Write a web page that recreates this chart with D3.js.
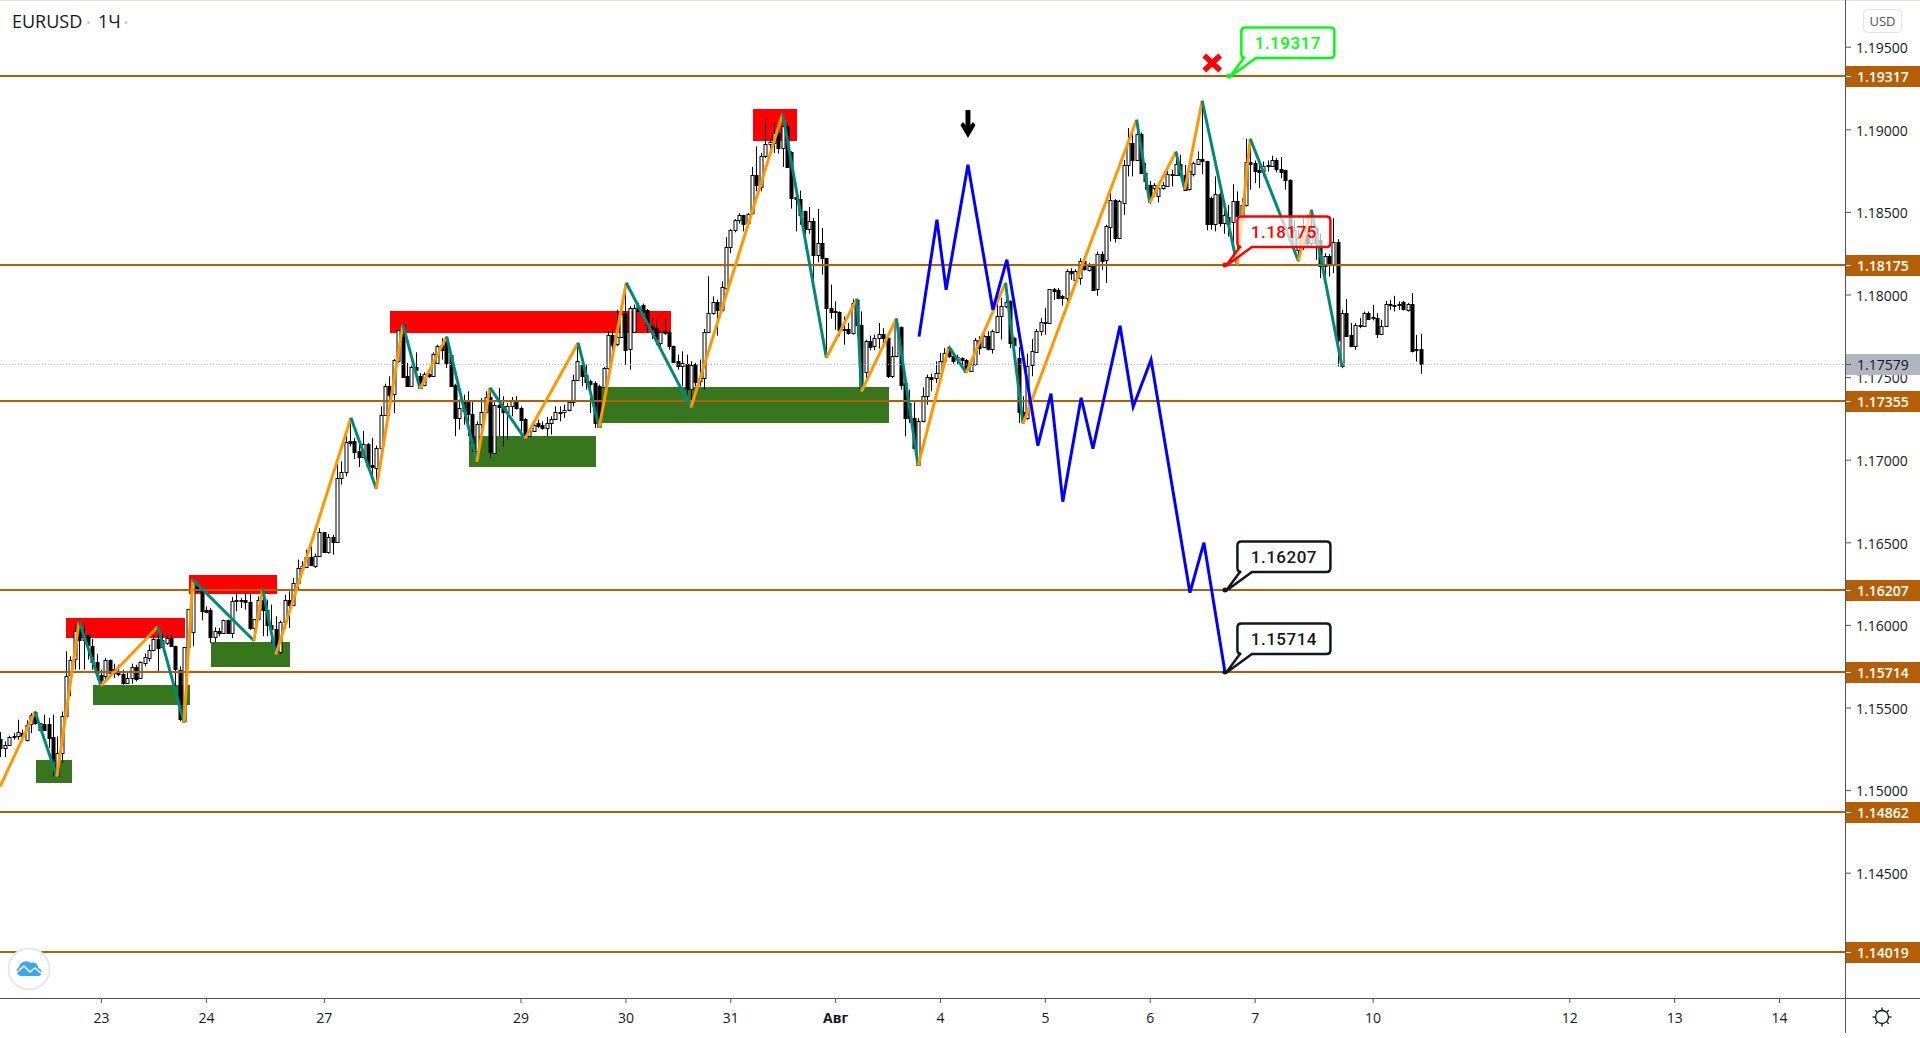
<!DOCTYPE html>
<html>
<head>
<meta charset="utf-8">
<title>EURUSD</title>
<script src="https://cdn.jsdelivr.net/npm/d3@7"></script>
<style>
  html, body { margin: 0; padding: 0; background: #fff; overflow: hidden; }
  svg { display: block; }
  text { font-family: "Open Sans", sans-serif; }
</style>
</head>
<body>
<svg id="chart" width="1920" height="1038"></svg>
<script>
// bar number of the first candle, one candle per hour, trading hours only
const firstBar = -23;

const opens = [
  1.15311,1.15255,1.15271,1.15327,1.15327,1.15346,1.15305,1.15402,1.15473,1.15366,
  1.154,1.15402,1.15321,1.15083,1.15225,1.15451,1.15699,1.1579,1.16001,1.15911,
  1.15941,1.15874,1.15775,1.15699,1.15695,1.1579,1.15733,1.15713,1.15703,1.15648,
  1.15679,1.15745,1.15679,1.15769,1.15804,1.1585,1.15917,1.15866,1.1589,1.15921,
  1.1587,1.15725,1.15416,1.15866,1.15957,1.1623,1.16203,1.16092,1.16092,1.15931,
  1.15965,1.15955,1.16032,1.15951,1.16149,1.16149,1.16149,1.16139,1.15981,1.16036,
  1.16153,1.16092,1.16001,1.15975,1.1584,1.1602,1.16153,1.16123,1.16254,1.16345,
  1.16348,1.16411,1.1636,1.16415,1.16562,1.16439,1.16532,1.165,1.1689,1.16925,
  1.17115,1.17115,1.1705,1.17016,1.17095,1.16965,1.1695,1.1707,1.17273,1.17448,
  1.17394,1.17596,1.17818,1.17509,1.17448,1.17561,1.17509,1.17454,1.17521,1.17511,
  1.17586,1.17696,1.17737,1.17636,1.17454,1.17253,1.17353,1.17353,1.17279,1.17057,
  1.17218,1.17289,1.1738,1.17045,1.17333,1.17327,1.17293,1.17323,1.1736,1.17313,
  1.17246,1.17142,1.17172,1.17222,1.17208,1.17192,1.17222,1.17246,1.17287,1.17287,
  1.17301,1.17351,1.17485,1.17575,1.17515,1.17475,1.17464,1.17448,1.1744,1.17555,
  1.17757,1.17701,1.17743,1.17888,1.1767,1.17771,1.17933,1.17939,1.17908,1.17812,
  1.17797,1.17707,1.17777,1.17771,1.1769,1.176,1.1757,1.17581,1.17428,1.17581,
  1.17475,1.17495,1.17773,1.17888,1.17955,1.17904,1.18039,1.18287,1.18388,1.18449,
  1.18481,1.18433,1.18489,1.18721,1.18655,1.18836,1.18911,1.18917,1.18978,1.18885,
  1.19018,1.18863,1.18588,1.1858,1.18507,1.18398,1.18447,1.18241,1.18312,1.18221,
  1.17918,1.179,1.17894,1.17793,1.17793,1.17767,1.17969,1.17815,1.17535,1.1772,
  1.17686,1.17737,1.17761,1.17737,1.17505,1.17626,1.17801,1.17464,1.17343,1.17252,
  1.1697,1.17232,1.17383,1.175,1.17494,1.17525,1.17595,1.17676,1.1763,1.17605,
  1.17613,1.17601,1.17539,1.17581,1.17727,1.17682,1.17747,1.17666,1.17773,1.17868,
  1.17928,1.17959,1.17737,1.17616,1.17287,1.17252,1.17569,1.17656,1.17777,1.17836,
  1.17827,1.18033,1.18028,1.17992,1.17982,1.18145,1.18093,1.18099,1.182,1.18149,
  1.18174,1.18033,1.18246,1.18206,1.18412,1.18573,1.1834,1.18557,1.18785,1.1892,
  1.18815,1.18973,1.18735,1.18664,1.18644,1.18593,1.1864,1.1866,1.18723,1.18723,
  1.18789,1.18725,1.18634,1.1873,1.18791,1.18819,1.18809,1.18583,1.18428,1.18608,
  1.18432,1.18472,1.18436,1.18563,1.18452,1.18543,1.18805,1.18795,1.18755,1.18751,
  1.18775,1.18779,1.18815,1.18761,1.18751,1.18694,1.1829,1.1827,1.1829,1.18412,
  1.18311,1.18402,1.18331,1.18174,1.18234,1.1818,1.18317,1.17564,1.17887,1.17756,
  1.1769,1.1781,1.1781,1.17891,1.17863,1.17857,1.17762,1.17812,1.17938,1.17932,
  1.17944,1.17952,1.17907,1.17944,1.17669,1.17669
];
const highs = [
  1.15352,1.15295,1.15329,1.15346,1.15426,1.15366,1.15422,1.15467,1.15477,1.15406,
  1.15457,1.15436,1.15457,1.15325,1.15475,1.1584,1.1581,1.16001,1.16022,1.16001,
  1.15941,1.15915,1.15824,1.15729,1.158,1.1579,1.15765,1.15759,1.15729,1.15709,
  1.15765,1.15759,1.15779,1.15826,1.1588,1.15935,1.15991,1.15951,1.15951,1.15951,
  1.15874,1.15749,1.15866,1.16096,1.16274,1.16254,1.16203,1.16112,1.16102,1.15985,
  1.15981,1.16032,1.16032,1.1617,1.16217,1.16163,1.16193,1.16193,1.16036,1.16173,
  1.16213,1.16153,1.16123,1.16052,1.16026,1.16183,1.16203,1.16284,1.16395,1.16385,
  1.16455,1.16479,1.16431,1.16586,1.16562,1.1655,1.16546,1.1699,1.1699,1.17161,
  1.17252,1.17131,1.17101,1.17175,1.17101,1.17131,1.17085,1.17323,1.1746,1.17505,
  1.1761,1.17791,1.17828,1.17586,1.1757,1.1765,1.17525,1.17529,1.17525,1.1765,
  1.17696,1.17737,1.17747,1.17646,1.1746,1.17364,1.17394,1.17414,1.17353,1.17232,
  1.17374,1.17414,1.17414,1.17353,1.17434,1.17384,1.17343,1.1738,1.17384,1.17323,
  1.17253,1.17192,1.17242,1.17242,1.17232,1.17259,1.17263,1.17323,1.17323,1.17333,
  1.17353,1.17515,1.17707,1.1763,1.17575,1.17485,1.17475,1.17454,1.17561,1.17777,
  1.17787,1.17908,1.17918,1.18029,1.17929,1.17939,1.17949,1.17945,1.17912,1.17858,
  1.17848,1.17783,1.17858,1.17777,1.1769,1.17636,1.17656,1.17636,1.17596,1.17586,
  1.17606,1.17791,1.1811,1.17989,1.17969,1.1808,1.18348,1.18396,1.18457,1.18493,
  1.18483,1.18493,1.18772,1.18897,1.18857,1.19058,1.18941,1.19038,1.19018,1.19095,
  1.19038,1.18867,1.18625,1.18629,1.18507,1.1853,1.18463,1.18518,1.18403,1.18221,
  1.1806,1.17959,1.17898,1.17868,1.17827,1.17973,1.17969,1.17898,1.17727,1.17751,
  1.17757,1.17827,1.17797,1.17743,1.17686,1.17856,1.17807,1.17484,1.17424,1.17353,
  1.17252,1.17438,1.17515,1.17521,1.17595,1.17646,1.17676,1.1769,1.17636,1.17636,
  1.1762,1.1761,1.17595,1.17737,1.17747,1.17757,1.17777,1.17787,1.18033,1.17979,
  1.1807,1.17965,1.17743,1.17682,1.17384,1.17642,1.17731,1.17791,1.17858,1.17918,
  1.18033,1.18039,1.18039,1.17998,1.18153,1.18159,1.18153,1.1822,1.1821,1.1819,
  1.18186,1.1826,1.1826,1.18422,1.18624,1.18577,1.18573,1.18815,1.19007,1.18987,
  1.19058,1.18981,1.18795,1.18688,1.18674,1.18654,1.1868,1.18755,1.18755,1.18866,
  1.18846,1.18785,1.18795,1.18805,1.18866,1.19173,1.18809,1.18593,1.18715,1.18654,
  1.18563,1.18543,1.18668,1.18624,1.18583,1.18941,1.18941,1.18811,1.18795,1.18805,
  1.18811,1.1884,1.18826,1.18832,1.18755,1.18698,1.18452,1.18392,1.18472,1.18482,
  1.18513,1.18412,1.18371,1.1825,1.18246,1.18462,1.18335,1.17907,1.17972,1.17827,
  1.17827,1.17857,1.17897,1.17897,1.17938,1.17887,1.17847,1.17962,1.17968,1.17992,
  1.17958,1.17962,1.17948,1.18008,1.17756,1.17762
];
const lows = [
  1.152,1.152,1.15269,1.15305,1.15305,1.15295,1.15295,1.15346,1.15396,1.15356,
  1.15366,1.15255,1.15079,1.15079,1.15164,1.15447,1.15568,1.15729,1.15729,1.15729,
  1.1579,1.15729,1.15669,1.15638,1.15648,1.15699,1.15679,1.15689,1.15638,1.15644,
  1.15644,1.15658,1.15675,1.15749,1.15779,1.1584,1.15709,1.1586,1.1588,1.15866,
  1.15568,1.15416,1.15406,1.15749,1.1587,1.16193,1.16028,1.16076,1.1589,1.15895,
  1.15931,1.15951,1.15947,1.15921,1.16082,1.16102,1.16092,1.15971,1.15901,1.16032,
  1.15931,1.15931,1.1589,1.1582,1.15826,1.15977,1.15981,1.16123,1.16213,1.16334,
  1.16344,1.1636,1.16344,1.16411,1.16435,1.16431,1.16425,1.165,1.1685,1.16899,
  1.1708,1.17004,1.16955,1.1701,1.1695,1.1687,1.16822,1.1706,1.17267,1.17263,
  1.17283,1.17586,1.17495,1.1744,1.17444,1.17505,1.17428,1.17444,1.17495,1.17505,
  1.17581,1.17606,1.17555,1.17444,1.17142,1.17182,1.17212,1.17142,1.17041,1.17,
  1.17142,1.17283,1.1701,1.17041,1.17142,1.17081,1.17121,1.17263,1.17303,1.17172,
  1.17121,1.17137,1.17168,1.17192,1.17182,1.17142,1.17152,1.17242,1.17232,1.17253,
  1.17293,1.17323,1.17481,1.17444,1.17424,1.17283,1.17192,1.17192,1.17434,1.17545,
  1.17606,1.17686,1.17737,1.17575,1.17545,1.17767,1.17898,1.17888,1.17767,1.17731,
  1.17696,1.17676,1.17757,1.17666,1.17586,1.17545,1.17444,1.17394,1.17313,1.17444,
  1.17444,1.17424,1.17771,1.17878,1.17751,1.17898,1.18029,1.18251,1.18376,1.18429,
  1.18382,1.18429,1.18483,1.18625,1.18625,1.18826,1.18846,1.18857,1.18853,1.18772,
  1.18766,1.1852,1.18382,1.18423,1.18275,1.18368,1.18029,1.18195,1.1812,1.17616,
  1.17854,1.17787,1.17747,1.17696,1.17757,1.17757,1.17747,1.17414,1.17474,1.17662,
  1.17662,1.17672,1.17686,1.17494,1.17494,1.1762,1.17424,1.17141,1.17222,1.17065,
  1.16964,1.17226,1.17333,1.17414,1.17464,1.17521,1.17585,1.17616,1.17581,1.17575,
  1.17561,1.17529,1.17535,1.17569,1.17636,1.17676,1.17662,1.17642,1.17767,1.17727,
  1.17918,1.17676,1.17666,1.17222,1.17218,1.17242,1.17505,1.17652,1.17751,1.17757,
  1.17823,1.17968,1.17972,1.17932,1.17952,1.18089,1.18089,1.18059,1.18145,1.18139,
  1.18024,1.17992,1.18149,1.18069,1.18321,1.18315,1.18335,1.18482,1.18715,1.18715,
  1.18811,1.18731,1.18634,1.18549,1.18593,1.18557,1.18634,1.18658,1.18654,1.18719,
  1.18715,1.1863,1.1863,1.18715,1.18785,1.1873,1.18388,1.18392,1.18382,1.18412,
  1.18367,1.18351,1.18291,1.1818,1.18432,1.18533,1.18634,1.18674,1.18644,1.18715,
  1.18745,1.18775,1.18739,1.18704,1.18634,1.18371,1.1827,1.182,1.1827,1.1829,
  1.1829,1.1821,1.18099,1.18099,1.18109,1.18129,1.17564,1.17554,1.17746,1.17681,
  1.17665,1.17796,1.17806,1.17847,1.17843,1.17736,1.17756,1.1781,1.17907,1.17897,
  1.17907,1.17903,1.17897,1.17649,1.17595,1.1752
];
const closes = [
  1.15255,1.15275,1.15321,1.15319,1.15352,1.15325,1.15396,1.15457,1.15406,1.15406,
  1.15366,1.15319,1.15184,1.15225,1.15451,1.15693,1.1579,1.15961,1.15911,1.15941,
  1.1588,1.1578,1.15709,1.15669,1.1579,1.15709,1.15709,1.15699,1.15648,1.15679,
  1.15745,1.15675,1.15775,1.15806,1.1585,1.15917,1.15864,1.15911,1.15921,1.1587,
  1.15729,1.15426,1.15866,1.16096,1.16274,1.16203,1.16082,1.16082,1.15931,1.15965,
  1.15951,1.16032,1.15951,1.16143,1.16143,1.16143,1.16139,1.15981,1.16036,1.16149,
  1.16092,1.16001,1.15975,1.1584,1.1602,1.16153,1.16123,1.16254,1.16345,1.16359,
  1.16411,1.1636,1.16419,1.16562,1.16439,1.16532,1.165,1.1689,1.16925,1.17105,
  1.17105,1.1705,1.17016,1.17095,1.1696,1.16951,1.1707,1.17272,1.17448,1.17394,
  1.17602,1.17783,1.17505,1.17448,1.17561,1.17545,1.17434,1.17521,1.17509,1.17642,
  1.1769,1.17666,1.17586,1.17448,1.17253,1.17313,1.17293,1.17273,1.17101,1.17218,
  1.17289,1.1738,1.17045,1.17333,1.17323,1.17293,1.17327,1.1736,1.17313,1.17242,
  1.17146,1.17172,1.17208,1.17202,1.17192,1.17222,1.17246,1.17289,1.17291,1.17301,
  1.17351,1.17485,1.176,1.17509,1.17475,1.17454,1.17222,1.17202,1.17555,1.17757,
  1.17696,1.17743,1.17884,1.17666,1.17918,1.17918,1.17904,1.17898,1.17818,1.17791,
  1.17731,1.17775,1.17767,1.17686,1.17596,1.1757,1.17586,1.17428,1.17575,1.17475,
  1.17495,1.17773,1.17888,1.17955,1.17904,1.18046,1.18287,1.18392,1.18449,1.18481,
  1.18427,1.18489,1.18721,1.18661,1.1884,1.18911,1.18923,1.18978,1.18885,1.19018,
  1.1877,1.18584,1.18578,1.18483,1.18396,1.18447,1.18241,1.18312,1.18221,1.17916,
  1.17894,1.17892,1.17787,1.17787,1.17771,1.17948,1.17815,1.17434,1.1772,1.17686,
  1.17737,1.17761,1.17737,1.17505,1.17626,1.17827,1.1745,1.17252,1.17252,1.17071,
  1.17236,1.17383,1.175,1.1749,1.17525,1.17595,1.17646,1.17626,1.17601,1.1762,
  1.17601,1.17541,1.17581,1.17727,1.17676,1.17747,1.17666,1.17777,1.17872,1.17928,
  1.17955,1.17706,1.17696,1.17287,1.17242,1.17569,1.17656,1.17781,1.17834,1.17828,
  1.18033,1.18018,1.17978,1.17982,1.18145,1.18133,1.18145,1.182,1.18149,1.18174,
  1.18028,1.18246,1.18206,1.18412,1.18573,1.1834,1.18563,1.18785,1.1892,1.18815,
  1.18973,1.18735,1.18684,1.18598,1.18664,1.18644,1.1866,1.1873,1.1873,1.18789,
  1.18725,1.18634,1.18745,1.18795,1.18819,1.18805,1.18428,1.18428,1.18608,1.18432,
  1.18482,1.18432,1.18563,1.18472,1.18543,1.18805,1.18791,1.18745,1.18745,1.18779,
  1.18781,1.18815,1.18761,1.18745,1.1869,1.18412,1.18392,1.18341,1.18392,1.18311,
  1.18392,1.18311,1.18174,1.18234,1.1818,1.18317,1.17726,1.17887,1.1775,1.1769,
  1.17817,1.17817,1.17891,1.17857,1.17855,1.17762,1.17812,1.17944,1.17944,1.17938,
  1.17936,1.17907,1.17944,1.17661,1.17661,1.1758
];

// orange/teal zigzag pivots
const zigBars = [-23.1,-15.1,-10.1,-5,0,13,19,21,35,37,40,57.2,63,69.1,73,79.1,86,89,97,109.2,114,120.2,135,156,166,173,174,182,187,194,198,207,211,237,240,246,248,252,260,263,274,277,284];
const zigPrices = [1.15021,1.15475,1.15081,1.16019,1.15632,1.15989,1.15408,1.16274,1.15904,1.16219,1.1582,1.17254,1.16824,1.17817,1.1743,1.17745,1.16988,1.17436,1.17127,1.17708,1.17194,1.18071,1.17315,1.19094,1.17617,1.17975,1.17412,1.17854,1.16964,1.17684,1.17527,1.18071,1.17218,1.19058,1.18556,1.18864,1.18634,1.19173,1.1818,1.18943,1.18205,1.18513,1.17563];

// blue forecast path
const forecastBars = [187.2,191.3,193.4,198.4,204.1,207.3,214.4,217.4,220.1,224.3,227,233.2,236.2,240.3,249.2,252.4,257.2];
const forecastPrices = [1.17745,1.18453,1.18029,1.18786,1.17908,1.18211,1.17085,1.174,1.16746,1.17375,1.17067,1.17811,1.17321,1.17605,1.16195,1.16498,1.15717];

// supply and demand zones
const redZoneBars = [[-8,19.2],[20.1,40.3],[66.1,130.4],[149.2,159.3]];
const redZonePrices = [[1.16044,1.15923],[1.16304,1.16189],[1.17902,1.17769],[1.19125,1.18931]];
const greenZoneBars = [[-14.9,-6.6],[-1.8,20.4],[25.2,43.2],[84.2,113.3],[114,180.3]];
const greenZonePrices = [[1.15184,1.15045],[1.15638,1.15517],[1.15898,1.15747],[1.17145,1.16958],[1.17442,1.17224]];

const levels = [1.19317,1.18175,1.17355,1.16207,1.15714,1.14862,1.14019];
const lastPrice = 1.17579;

const priceTicks = [1.195,1.19,1.185,1.18,1.175,1.17,1.165,1.16,1.155,1.15,1.145];
const dayBars = [0,24,51,96,120,144,168,192,216,240,264,291,336,360,384];
const dayLabels = ["23","24","27","29","30","31","Авг","4","5","6","7","10","12","13","14"];

const calloutBars = [258.1,257.2,257.2,257.2];
const calloutPrices = [1.19317,1.18175,1.16207,1.15714];
const calloutColors = ["#00ff0c","#ff0000","#131722","#131722"];
const calloutFills = ["#ffffff","rgba(255,255,255,0.7)","#ffffff","#ffffff"];

const arrowBar = 198.4, arrowPrice = 1.18947;
const crossBar = 254.3, crossPrice = 1.19401;

const axisX = 1845, axisY = 998;
const levelColor = "#b45f06", lineColor = "#50535e", textColor = "#131722";

const x = d3.scaleLinear().domain([0, 384]).range([101, 1779]);
const y = d3.scaleLinear().domain([1.195, 1.145]).range([46.7, 872.7]);

const svg = d3.select("#chart");

svg.append("rect").attr("width", 1920).attr("height", 1).attr("fill", "#e0e3eb");

svg.append("defs").append("clipPath").attr("id", "plot")
  .append("rect").attr("width", axisX).attr("height", axisY);
const plot = svg.append("g").attr("clip-path", "url(#plot)");

// zones
function drawZones(bars, prices, color) {
  plot.append("g").selectAll("rect").data(bars).join("rect")
    .attr("x", d => Math.round(x(d[0])))
    .attr("width", d => Math.round(x(d[1]) - x(d[0])))
    .attr("y", (d, i) => Math.round(y(prices[i][0])))
    .attr("height", (d, i) => Math.round(y(prices[i][1]) - y(prices[i][0])))
    .attr("fill", color);
}
drawZones(redZoneBars, redZonePrices, "#ff0000");
drawZones(greenZoneBars, greenZonePrices, "#38761d");

// candles
const candleIdx = d3.range(opens.length);
const cx = i => Math.round(x(firstBar + i)) + 0.5;
const candles = plot.append("g");
candles.selectAll("line").data(candleIdx).join("line")
  .attr("x1", cx).attr("x2", cx)
  .attr("y1", i => y(highs[i])).attr("y2", i => y(lows[i]))
  .attr("stroke", "#000").attr("stroke-width", 1);
candles.selectAll("rect").data(candleIdx).join("rect")
  .attr("x", i => cx(i) - 1.5 + 0)
  .attr("width", 3)
  .attr("y", i => Math.round(y(Math.max(opens[i], closes[i]))) + 0.5)
  .attr("height", i => Math.max(1, Math.round(Math.abs(y(opens[i]) - y(closes[i])))))
  .attr("fill", i => closes[i] >= opens[i] ? "#fff" : "#000")
  .attr("stroke", "#000").attr("stroke-width", 1);

// last price
plot.append("line")
  .attr("x1", 0).attr("x2", axisX)
  .attr("y1", Math.floor(y(lastPrice)) + 0.5).attr("y2", Math.floor(y(lastPrice)) + 0.5)
  .attr("stroke", "#b2b5be").attr("stroke-dasharray", "1,2");

// horizontal levels
plot.append("g").selectAll("line").data(levels).join("line")
  .attr("x1", 0).attr("x2", axisX)
  .attr("y1", d => Math.floor(y(d))).attr("y2", d => Math.floor(y(d)))
  .attr("stroke", levelColor).attr("stroke-width", 2);

// zigzag
const zigPoints = zigBars.map((b, i) => [b, zigPrices[i]]);
plot.append("g").selectAll("line").data(d3.pairs(zigPoints)).join("line")
  .attr("x1", d => x(d[0][0])).attr("y1", d => y(d[0][1]))
  .attr("x2", d => x(d[1][0])).attr("y2", d => y(d[1][1]))
  .attr("stroke", d => d[1][1] > d[0][1] ? "#ff9800" : "#00897b")
  .attr("stroke-width", 3);

// forecast
const forecastLine = d3.line().x((d, i) => x(d)).y((d, i) => y(forecastPrices[i]));
plot.append("path")
  .attr("d", forecastLine(forecastBars))
  .attr("fill", "none").attr("stroke", "#0000ff").attr("stroke-width", 3);

// arrow and cross
plot.append("path")
  .attr("transform", `translate(${x(arrowBar)},${y(arrowPrice)})`)
  .attr("d", "M-2.5,-28L2.5,-28L2.5,-13L5,-16L7.5,-13L0,0L-7.5,-13L-5,-16L-2.5,-13Z")
  .attr("fill", "#000");
const cross = plot.append("g").attr("transform", `translate(${x(crossBar)},${y(crossPrice)})`);
cross.append("line").attr("x1", -8).attr("y1", -7.5).attr("x2", 8).attr("y2", 7.5);
cross.append("line").attr("x1", -8).attr("y1", 7.5).attr("x2", 8).attr("y2", -7.5);
cross.selectAll("line").attr("stroke", "#ff0000").attr("stroke-width", 5.5);

// callouts
calloutBars.forEach(function(b, i) {
  const tx = x(b), ty = Math.floor(y(calloutPrices[i]));
  const color = calloutColors[i];
  const g = plot.append("g").attr("transform", `translate(${tx},${ty})`);
  const l = 12.5, r = 105.5, t = -48.5, bt = -18, c = 4;
  const d = `M${l + c},${t}L${r - c},${t}Q${r},${t} ${r},${t + c}L${r},${bt - c}Q${r},${bt} ${r - c},${bt}` +
    `L27,${bt}L1,1L15,${bt}L${l + c},${bt}Q${l},${bt} ${l},${bt - c}L${l},${t + c}Q${l},${t} ${l + c},${t}Z`;
  g.append("path").attr("d", d).attr("fill", calloutFills[i]).attr("stroke", color).attr("stroke-width", 2.5);
  g.append("circle").attr("r", 2.5).attr("fill", color);
  g.append("text")
    .attr("x", (l + r) / 2).attr("y", (t + bt) / 2 + 6)
    .attr("text-anchor", "middle")
    .attr("fill", color)
    .style("font-family", "Roboto")
    .style("font-size", "17px")
    .style("font-weight", 500)
    .style("letter-spacing", "0.5px")
    .text(calloutPrices[i].toFixed(5));
});

// price axis
const priceAxis = d3.axisRight(y).tickValues(priceTicks).tickSize(6).tickPadding(5)
  .tickFormat(d3.format(".5f"));
const pa = svg.append("g").attr("transform", `translate(${axisX},0)`).call(priceAxis);
pa.select(".domain").remove();
pa.selectAll("line").attr("stroke", lineColor);
pa.selectAll("text").attr("fill", textColor).attr("dy", "0.42em").style("font-family", "Open Sans").style("font-size", "14px");

// time axis
const timeAxis = d3.axisBottom(x).tickValues(dayBars).tickSize(5).tickPadding(10)
  .tickFormat((d, i) => dayLabels[i]);
const ta = svg.append("g").attr("transform", `translate(0,${axisY})`).call(timeAxis);
ta.select(".domain").remove();
ta.selectAll("line").attr("stroke", lineColor);
ta.selectAll("text").attr("fill", textColor).style("font-family", "Open Sans").style("font-size", "14px")
  .style("font-weight", (d, i) => dayLabels[i] === "Авг" ? 700 : 400);

svg.append("line").attr("x1", 0).attr("x2", 1920).attr("y1", axisY + 0.5).attr("y2", axisY + 0.5)
  .attr("stroke", lineColor);
svg.append("line").attr("x1", axisX + 0.5).attr("x2", axisX + 0.5).attr("y1", 0).attr("y2", 1033)
  .attr("stroke", lineColor);

// price labels
const labels = levels.map(d => ({ price: d, bg: levelColor, fg: "#fff", weight: 600 }));
labels.push({ price: lastPrice, bg: "#b2b5be", fg: textColor, weight: 400 });
const lg = svg.append("g").selectAll("g").data(labels).join("g")
  .attr("transform", d => `translate(${axisX + 1},${Math.floor(y(d.price))})`);
lg.append("rect").attr("y", -10).attr("width", 75).attr("height", 21).attr("fill", d => d.bg);
lg.append("line").attr("x1", 0).attr("x2", 5).attr("y1", 0.5).attr("y2", 0.5)
  .attr("stroke", d => d.fg === "#fff" ? "#fff" : lineColor);
lg.append("text").attr("x", 11).attr("y", 5.5)
  .attr("fill", d => d.fg)
  .style("font-size", "14px")
  .style("font-weight", d => d.weight)
  .text(d => d.price.toFixed(5));

// currency button
svg.append("rect").attr("x", 1863.5).attr("y", 9.5).attr("width", 38).attr("height", 23).attr("rx", 4)
  .attr("fill", "#fff").attr("stroke", "#e0e3eb");
svg.append("text").attr("x", 1882.5).attr("y", 26).attr("text-anchor", "middle")
  .attr("fill", lineColor).style("font-size", "13px").text("USD");

// title
svg.append("text").attr("x", 12).attr("y", 28).attr("fill", textColor).style("font-size", "18px").text("EURUSD");
svg.append("text").attr("x", 98).attr("y", 28).attr("fill", textColor).style("font-size", "18px").text("1Ч");
svg.append("circle").attr("cx", 88.5).attr("cy", 22.5).attr("r", 1.5).attr("fill", "#c8cad0");
svg.append("circle").attr("cx", 126).attr("cy", 22.5).attr("r", 1.5).attr("fill", "#c8cad0");

// logo
const logo = svg.append("g").attr("transform", "translate(29,969)");
logo.append("circle").attr("r", 20.5).attr("fill", "#fff").attr("stroke", "#e8e8e8").attr("stroke-width", 2);
logo.append("path").attr("d", "M-9,7A5,5 0 0 1 -10,-2A7.5,7.5 0 0 1 2,-6A5,5 0 0 1 9,-1A4.2,4.2 0 0 1 10,7Z").attr("fill", "#3ba5f0");
logo.append("path").attr("d", "M-13,4L-5,-3L1,3L6,-1L13,5").attr("fill", "none").attr("stroke", "#fff").attr("stroke-width", 1.6);

// settings icon
const gear = svg.append("g").attr("transform", "translate(1882,1017)");
gear.append("circle").attr("r", 6.5).attr("fill", "none").attr("stroke", textColor).attr("stroke-width", 1.3);
gear.selectAll("line").data(d3.range(8)).join("line")
  .attr("x1", d => 7 * Math.cos(d * Math.PI / 4)).attr("y1", d => 7 * Math.sin(d * Math.PI / 4))
  .attr("x2", d => 9.5 * Math.cos(d * Math.PI / 4)).attr("y2", d => 9.5 * Math.sin(d * Math.PI / 4))
  .attr("stroke", textColor).attr("stroke-width", 1.3);
</script>
</body>
</html>
